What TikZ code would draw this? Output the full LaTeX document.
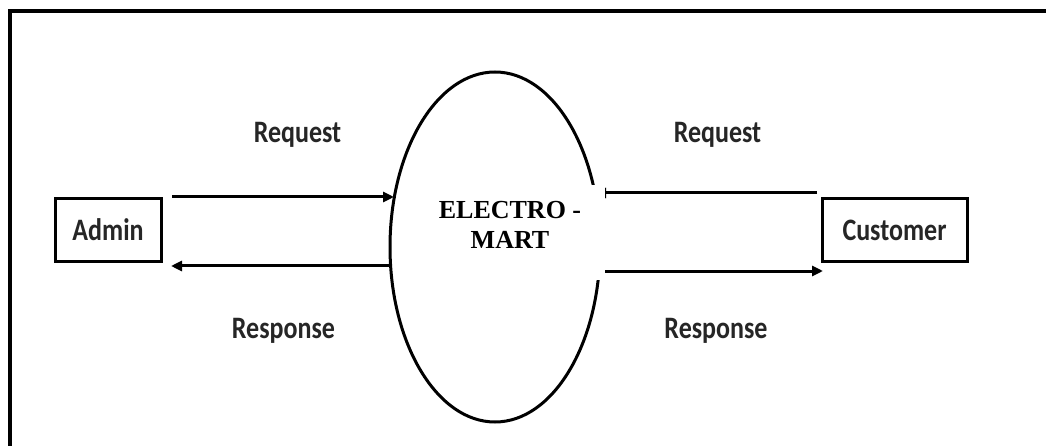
\documentclass[tikz,border=0pt]{standalone}
\usepackage{fontspec}
\setmainfont{Carlito}
\newfontfamily\titlefont{Liberation Serif}
\usetikzlibrary{shapes.geometric,arrows.meta}
\newcommand\stretchtxt[1]{\scalebox{1}[1.2]{#1}}
\tikzset{
  lbl/.style={font=\fontsize{26}{30}\selectfont\bfseries, text=black!85, inner sep=0pt},
  entity/.style={draw, line width=3pt, minimum width=#1, minimum height=63pt, inner sep=0pt, font=\fontsize{26}{30}\selectfont\bfseries, text=black!85},
  flow/.style={line width=3pt, -{Triangle[length=11pt,width=10pt]}},
  border/.style={line width=4pt}
}
\begin{document}
\begin{tikzpicture}[x=1pt,y=-1pt]
\useasboundingbox (0,0) rectangle (1046,446);
\fill[white] (0,0) rectangle (1046,446);
% outer border (only top and left visible)
\coordinate (bl) at (9.5,446);
\coordinate (tl) at (9.5,11);
\coordinate (tr) at (1046,11);
\draw[border] (bl) -- (tl) -- (tr);
% process
\node[ellipse, draw, line width=3pt, minimum width=210pt, minimum height=350pt, inner sep=0pt] (proc) at (495,247) {};
% entities
\node[entity=106pt] (admin) at (108,230) {\stretchtxt{Admin}};
\node[entity=145pt] (cust) at (894.5,230.5) {\stretchtxt{Customer}};
% flow end points
\coordinate (a1s) at (172,197);
\coordinate (a1e) at (394,197);
\coordinate (a2s) at (391,266);
\coordinate (a2e) at (171,266);
\coordinate (c1s) at (817,193);
\coordinate (c1e) at (595,193);
\coordinate (c2s) at (599,271);
\coordinate (c2e) at (823,271);
\draw[flow] (a1s) -- (a1e);
\draw[flow] (a2s) -- (a2e);
\draw[flow] (c1s) -- (c1e);
\draw[flow] (c2s) -- (c2e);
% labels
\node[lbl] (l1) at (297.5,135) {\stretchtxt{Request}};
\node[lbl] (l2) at (717.5,135) {\stretchtxt{Request}};
\node[lbl] (l3) at (283.5,331) {\stretchtxt{Response}};
\node[lbl] (l4) at (716,331) {\stretchtxt{Response}};
% white cover with process name
\node[fill=white, minimum width=188pt, minimum height=95pt, inner sep=0pt] (cover) at (511,232.5) {};
\node[font=\titlefont\fontsize{26}{30}\selectfont\bfseries, align=center, inner sep=0pt] (title) at (510,225) {ELECTRO -\\MART};
\end{tikzpicture}
\end{document}
